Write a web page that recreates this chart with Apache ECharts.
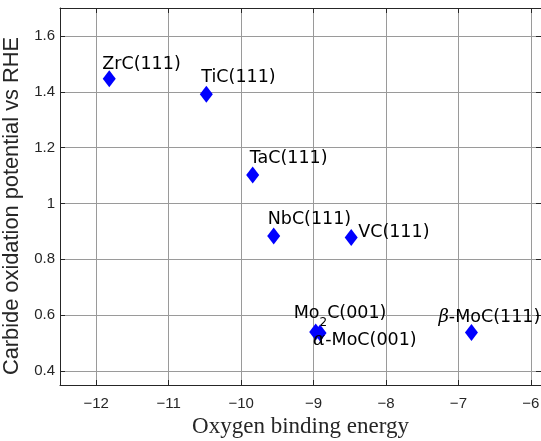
<!DOCTYPE html>
<html>
<head>
<meta charset="utf-8">
<script src="https://cdn.jsdelivr.net/npm/echarts@6/dist/echarts.min.js"></script>
<style>
html,body{margin:0;padding:0;background:#fff;}
#chart{width:541px;height:441px;}
</style>
</head>
<body>
<div id="chart"></div>
<script>
// ---- data ----
const labels = ['ZrC(111)', 'TiC(111)', 'TaC(111)', 'NbC(111)', 'VC(111)', 'Mo{sub|2}C(001)', '{gr|α}-MoC(001)', '{gr|β}-MoC(111)'];
const oxygenBinding = [-11.82, -10.48, -9.84, -9.55, -8.48, -8.97, -8.91, -6.82];
const oxidationPotential = [1.447, 1.391, 1.102, 0.884, 0.878, 0.540, 0.536, 0.538];
const xTicks = [-12, -11, -10, -9, -8, -7, -6];
const yTicks = [0.4, 0.6, 0.8, 1.0, 1.2, 1.4, 1.6];
const xRange = [-12.5, -5.86];
const yRange = [0.35, 1.70];

// ---- label placement (pixels, relative to marker centre) ----
const labelOffsets = [[-7, -14.5], [-5, -16.5], [-3, -16.5], [-6, -16.5], [7, -5], [-22, -18], [-7, 7], [-33, -15]];

const chart = echarts.init(document.getElementById('chart'), null, {renderer: 'canvas'});
const axisColor = '#262626';
const gridColor = '#9a9a9a';
const minusFmt = v => String(v).replace('-', '\u2212');

const data = oxygenBinding.map((x, i) => ({
  value: [x, oxidationPotential[i]],
  label: {formatter: labels[i]}
}));

chart.setOption({
  animation: false,
  grid: {left: 60, right: 0, top: 8, bottom: 56, containLabel: false, outerBoundsMode: 'none'},
  xAxis: [{
    type: 'value', position: 'bottom', min: xRange[0], max: xRange[1],
    name: 'Oxygen binding energy', nameLocation: 'middle', nameGap: 30,
    nameTextStyle: {fontFamily: 'Liberation Serif', fontSize: 23, color: '#262626'},
    axisLine: {show: true, onZero: false, lineStyle: {color: axisColor, width: 1}},
    axisTick: {show: true, inside: true, length: 5, customValues: xTicks, lineStyle: {color: axisColor}},
    axisLabel: {show: true, customValues: xTicks, margin: 11, formatter: minusFmt,
      fontFamily: 'Liberation Sans', fontSize: 15, color: '#262626'},
    splitLine: {show: true, lineStyle: {color: gridColor, width: 1}}
  }, {
    type: 'value', position: 'top', min: xRange[0], max: xRange[1],
    axisLine: {show: true, onZero: false, lineStyle: {color: axisColor, width: 1}},
    axisTick: {show: true, inside: true, length: 5, customValues: xTicks, lineStyle: {color: axisColor}},
    axisLabel: {show: false},
    splitLine: {show: false}
  }],
  yAxis: [{
    type: 'value', position: 'left', min: yRange[0], max: yRange[1],
    name: 'Carbide oxidation potential vs RHE', nameLocation: 'middle', nameGap: 30,
    nameTextStyle: {fontFamily: 'Liberation Sans', fontSize: 21.8, color: '#262626', padding: [0, 19, 0, 0]},
    axisLine: {show: true, onZero: false, lineStyle: {color: axisColor, width: 1}},
    axisTick: {show: true, inside: true, length: 5, customValues: yTicks, lineStyle: {color: axisColor}},
    axisLabel: {show: true, customValues: yTicks, margin: 5, formatter: v => String(+v.toFixed(1)),
      fontFamily: 'Liberation Sans', fontSize: 15, color: '#262626'},
    splitLine: {show: true, lineStyle: {color: gridColor, width: 1}}
  }, {
    type: 'value', position: 'right', min: yRange[0], max: yRange[1],
    axisLine: {show: true, onZero: false, lineStyle: {color: axisColor, width: 1}},
    axisTick: {show: true, inside: true, length: 5, customValues: yTicks, lineStyle: {color: axisColor}},
    axisLabel: {show: false},
    splitLine: {show: false}
  }],
  series: [{
    type: 'scatter',
    xAxisIndex: 0, yAxisIndex: 0,
    symbol: 'diamond',
    symbolSize: [13, 17],
    itemStyle: {color: '#0000ff', opacity: 1},
    label: {
      show: true, position: 'inside', align: 'left', verticalAlign: 'middle',
      color: '#000', fontFamily: 'DejaVu Sans', fontSize: 17.5,
      rich: {
        sub: {fontFamily: 'DejaVu Sans', fontSize: 12, color: '#000', verticalAlign: 'bottom', lineHeight: 30},
        gr: {fontFamily: 'DejaVu Serif', fontStyle: 'italic', fontSize: 18, color: '#000'}
      }
    },
    labelLayout: function (params) {
      const o = labelOffsets[params.dataIndex];
      return {dx: o[0], dy: o[1], hideOverlap: false};
    },
    emphasis: {disabled: true},
    data: data,
    z: 5
  }]
});
</script>
</body>
</html>
